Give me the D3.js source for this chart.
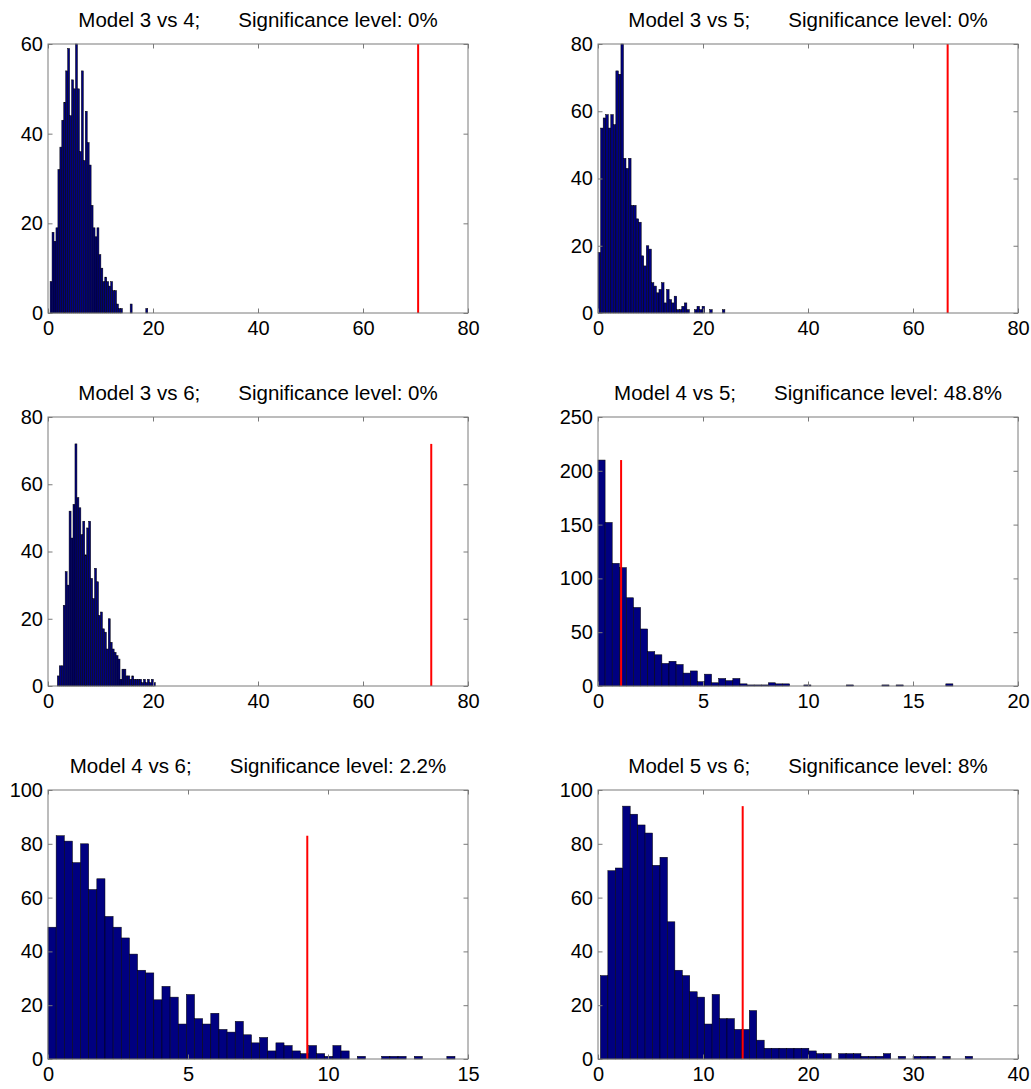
<!DOCTYPE html>
<html>
<head>
<meta charset="utf-8">
<script src="https://cdn.jsdelivr.net/npm/d3@7"></script>
<style>
  body { margin: 0; background: #fff; }
  text { font-family: "Liberation Sans", Arial, Helvetica, sans-serif; fill: #000; }
</style>
</head>
<body>
<div id="chart"></div>
<script>
// Bootstrap test statistic histograms (50 bins each) with observed value in red
const pairs = ["Model 3 vs 4;", "Model 3 vs 5;", "Model 3 vs 6;", "Model 4 vs 5;", "Model 4 vs 6;", "Model 5 vs 6;"];
const sigLevels = ["0%", "0%", "0%", "48.8%", "2.2%", "8%"];
const observed = [70.5, 66.6, 73.0, 1.1, 9.26, 13.78];

const binStarts = [0.4, 0.02, 1.78, 0, 0, 0.23];
const binWidths = [0.372, 0.483, 0.373, 0.338, 0.2907, 0.709];

const counts34 = [7,18,16,19,32,37,43,47,54,59,44,52,50,60,50,36,54,34,45,38,33,24,19,17,19,13,10,7,8,7,6,7,5,5,2,1,1,0,0,0,0,2,0,0,0,0,0,0,0,1];
const counts35 = [18,55,58,59,55,59,56,72,71,80,46,43,46,32,32,28,27,17,14,20,19,9,8,6,7,9,3,7,4,3,5,1,1,2,3,1,0,0,1,2,1,2,0,0,1,0,0,0,0,1];
const counts36 = [3,6,6,24,34,30,52,44,54,72,56,53,45,49,39,47,49,32,26,35,31,21,22,17,16,11,20,13,11,10,9,8,2,5,5,3,3,2,3,2,2,2,2,1,2,1,2,1,2,1];
const counts45 = [210,152,114,110,82,73,53,32,29,21,23,20,12,14,4,11,3,7,5,7,2,1,1,1,3,2,2,0,0,1,0,0,0,0,0,1,0,0,0,0,1,0,1,0,0,0,0,0,0,2];
const counts46 = [49,83,81,73,80,63,67,53,49,45,39,33,32,22,27,23,13,24,15,13,17,11,10,14,9,6,8,3,6,5,3,2,5,2,1,5,3,0,1,0,0,1,1,1,0,1,0,0,0,1];
const counts56 = [31,70,71,94,91,87,84,72,75,51,33,31,25,23,13,24,15,15,11,11,18,7,4,4,4,4,4,4,3,2,2,0,2,2,2,1,1,1,2,0,1,0,1,1,1,0,1,0,0,1];
const allCounts = [counts34, counts35, counts36, counts45, counts46, counts56];

const xTicks = [[0,20,40,60,80], [0,20,40,60,80], [0,20,40,60,80], [0,5,10,15,20], [0,5,10,15], [0,10,20,30,40]];
const yTicks = [[0,20,40,60], [0,20,40,60,80], [0,20,40,60,80], [0,50,100,150,200,250], [0,20,40,60,80,100], [0,20,40,60,80,100]];

const width = 1031, height = 1089;
const colX = [48, 598];
const rowY = [44, 417, 790];
const plotW = 420, plotH = 269;
const tickLen = 4.5;
const frameColor = "#7a7a7a";

const svg = d3.select("#chart").append("svg")
    .attr("width", width)
    .attr("height", height);

svg.append("rect").attr("width", width).attr("height", height).attr("fill", "#fff");

pairs.forEach((pair, p) => {
    const counts = allCounts[p];
    const xt = xTicks[p], yt = yTicks[p];
    const g = svg.append("g")
        .attr("transform", `translate(${colX[p % 2]},${rowY[Math.floor(p / 2)]})`);

    const x = d3.scaleLinear().domain([xt[0], xt[xt.length - 1]]).range([0, plotW]);
    const y = d3.scaleLinear().domain([yt[0], yt[yt.length - 1]]).range([plotH, 0]);

    // histogram bars
    const bw = binWidths[p];
    g.selectAll("rect.bar")
        .data(counts.map((c, i) => ({ x0: binStarts[p] + i * bw, c })).filter(d => d.c > 0))
        .enter().append("rect")
        .attr("class", "bar")
        .attr("x", d => x(d.x0))
        .attr("width", x(bw) - x(0))
        .attr("y", d => y(d.c))
        .attr("height", d => y(0) - y(d.c))
        .attr("fill", "#000080")
        .attr("stroke", "#000")
        .attr("stroke-width", 0.5);

    // observed statistic
    g.append("line")
        .attr("x1", x(observed[p])).attr("x2", x(observed[p]))
        .attr("y1", y(0)).attr("y2", y(d3.max(counts)))
        .attr("stroke", "#ff0000")
        .attr("stroke-width", 2);

    // axes (ticks inside the box, like matlab)
    const styleAxis = sel => {
        sel.select(".domain").remove();
        sel.selectAll(".tick line").attr("stroke", frameColor);
        sel.selectAll("text").style("font-size", "20px").attr("fill", "#000");
    };
    g.append("g").attr("transform", `translate(0,${plotH})`)
        .call(d3.axisBottom(x).tickValues(xt).tickSize(-tickLen).tickPadding(8).tickFormat(d3.format("d")))
        .call(styleAxis);
    g.append("g")
        .call(d3.axisTop(x).tickValues(xt).tickSize(-tickLen).tickFormat(""))
        .call(styleAxis);
    g.append("g")
        .call(d3.axisLeft(y).tickValues(yt).tickSize(-tickLen).tickPadding(5).tickFormat(d3.format("d")))
        .call(styleAxis);
    g.append("g").attr("transform", `translate(${plotW},0)`)
        .call(d3.axisRight(y).tickValues(yt).tickSize(-tickLen).tickFormat(""))
        .call(styleAxis);

    g.append("rect")
        .attr("width", plotW).attr("height", plotH)
        .attr("fill", "none")
        .attr("stroke", frameColor)
        .attr("stroke-width", 1);

    // title
    const t = g.append("text")
        .attr("x", plotW / 2)
        .attr("y", -17)
        .attr("text-anchor", "middle")
        .style("font-size", "20.5px");
    t.append("tspan").text(pair);
    t.append("tspan").attr("dx", 38).text("Significance level: " + sigLevels[p]);
});
</script>
</body>
</html>
